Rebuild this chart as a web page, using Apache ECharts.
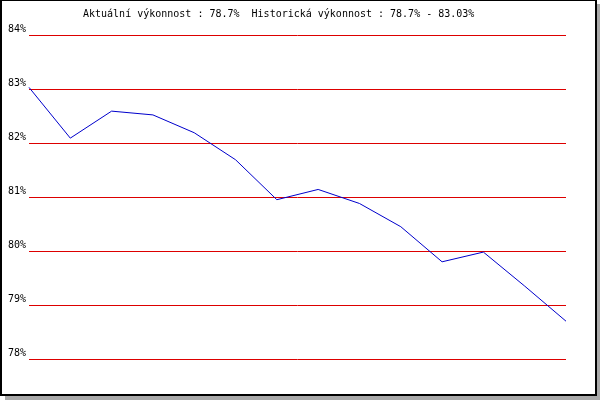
<!DOCTYPE html>
<html>
<head>
<meta charset="utf-8">
<script src="https://cdn.jsdelivr.net/npm/echarts@6/dist/echarts.min.js"></script>
<style>
html,body{margin:0;padding:0;background:#fff;}
#c{width:600px;height:400px;}
</style>
</head>
<body>
<div id="c"></div>
<script>
var titleText = 'Aktuální výkonnost : 78.7%  Historická výkonnost : 78.7% - 83.03%';
var categories = ['1','2','3','4','5','6','7','8','9','10','11','12','13','14'];
var performance = [83.03, 82.09, 82.59, 82.52, 82.19, 81.69, 80.95, 81.14, 80.88, 80.45, 79.80, 79.98, 79.35, 78.70];
var yMin = 78, yMax = 84, yStep = 1;

var chart = echarts.init(document.getElementById('c'), null, {renderer: 'canvas'});
chart.setOption({
  animation: false,
  backgroundColor: 'transparent',
  graphic: [
    {type: 'rect', z: -10, silent: true, shape: {x: 5, y: 4, width: 595, height: 396}, style: {fill: '#a9a9a9'}},
    {type: 'rect', z: -9, silent: true, shape: {x: 0, y: 0, width: 597, height: 396}, style: {fill: '#000'}},
    {type: 'rect', z: -8, silent: true, shape: {x: 2, y: 1, width: 593, height: 393}, style: {fill: '#fff'}},
    {type: 'text', z: 10, left: 83, top: 9, style: {text: titleText, font: '10px "DejaVu Sans Mono"', fill: '#000'}}
  ],
  grid: {left: 29, right: 34, top: 35, bottom: 41, containLabel: false},
  xAxis: {
    type: 'category', data: categories, boundaryGap: false,
    axisLine: {show: false}, axisTick: {show: false}, axisLabel: {show: false}, splitLine: {show: false}
  },
  yAxis: {
    type: 'value', min: yMin, max: yMax, interval: yStep,
    axisLine: {show: false}, axisTick: {show: false},
    axisLabel: {
      formatter: '{value}%', margin: 3, verticalAlign: 'bottom',
      fontFamily: 'DejaVu Sans Mono', fontSize: 10, color: '#000', lineHeight: 10, padding: [0, 0, 1, 0]
    },
    splitLine: {show: true, lineStyle: {color: '#dd0000', width: 1}}
  },
  series: [{
    type: 'line', data: performance, symbol: 'none', smooth: false,
    lineStyle: {color: '#0000cc', width: 1}
  }]
});
</script>
</body>
</html>
